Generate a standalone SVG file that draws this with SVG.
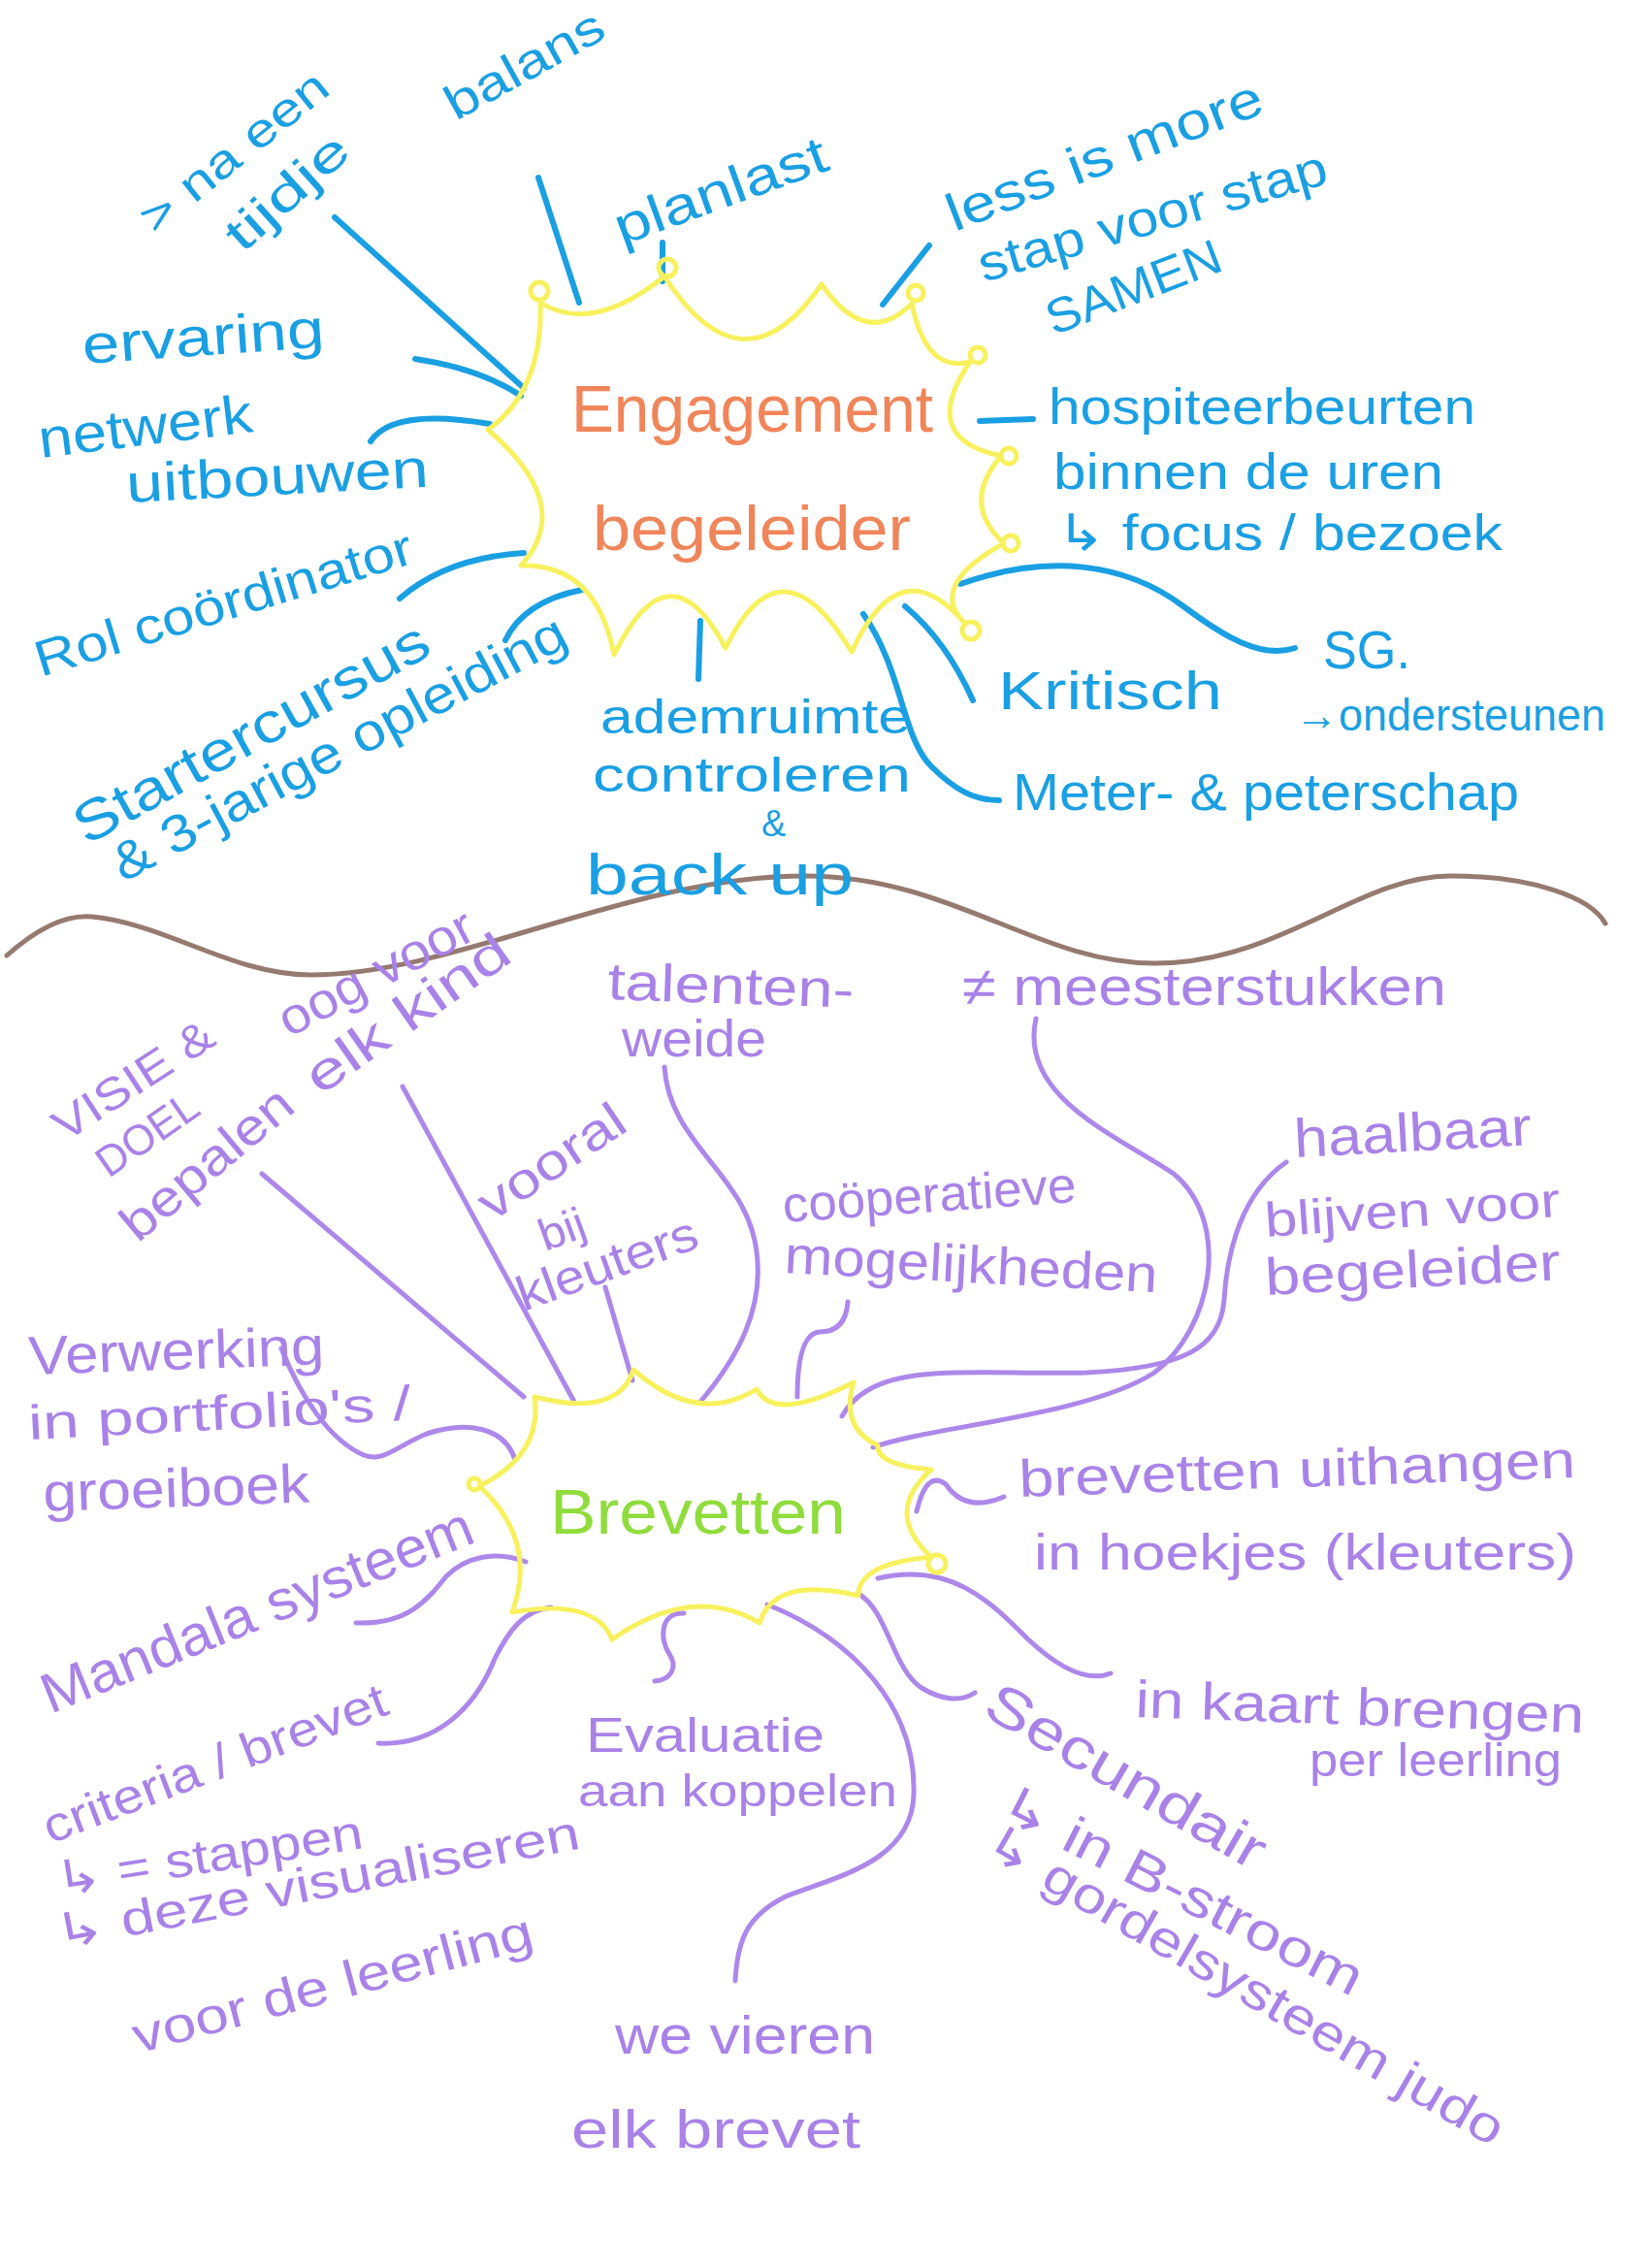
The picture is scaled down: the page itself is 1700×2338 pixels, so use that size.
<svg xmlns="http://www.w3.org/2000/svg" width="1700" height="2338" viewBox="0 0 1700 2338">
<style>
text{font-family:"Liberation Sans","DejaVu Sans",sans-serif;}
.b{fill:#1a9fe3;}
.p{fill:#a982e8;}
.o{fill:#f0855a;}
.g{fill:#8fdc3c;}
.cb{fill:none;stroke:#1a9fe3;stroke-width:6;stroke-linecap:round;}
.cp{fill:none;stroke:#ad88ea;stroke-width:5;stroke-linecap:round;}
.burst{fill:none;stroke:#f7f15e;stroke-width:5;stroke-linejoin:round;}
.loop{fill:none;stroke:#f7f15e;stroke-width:5;}
.wave{fill:none;stroke:#957a70;stroke-width:5;stroke-linecap:round;}
</style>
<rect width="1700" height="2338" fill="#ffffff"/>

<g id="divider">
<path class="wave" d="M7,985 C35,960 65,942 95,945 C170,952 240,1005 320,1005 C470,1005 650,903 830,903 C980,903 1070,993 1190,993 C1320,993 1400,903 1495,903 C1580,903 1640,925 1655,952"/>
</g>

<g id="connectors">
<!-- top (blue) -->
<path class="cb" d="M345,224 L540,400"/>
<path class="cb" d="M555,183 L597,312"/>
<path class="cb" d="M683,250 L683,290"/>
<path class="cb" d="M958,253 L910,314"/>
<path class="cb" d="M428,370 Q495,380 537,408"/>
<path class="cb" d="M382,455 Q405,420 505,437"/>
<path class="cb" d="M1010,434 L1065,432"/>
<path class="cb" d="M990,602 C1080,570 1160,580 1220,625 C1260,655 1300,680 1335,668"/>
<path class="cb" d="M933,625 Q975,660 1003,722"/>
<path class="cb" d="M890,633 C930,690 930,760 960,790 C985,815 1005,825 1030,825"/>
<path class="cb" d="M722,640 L720,700"/>
<path class="cb" d="M412,617 Q460,575 540,570"/>
<path class="cb" d="M521,660 Q540,620 600,608"/>
<!-- bottom (purple) -->
<path class="cp" d="M270,1210 L540,1440"/>
<path class="cp" d="M415,1120 L592,1445"/>
<path class="cp" d="M624,1327 L652,1423"/>
<path class="cp" d="M685,1100 C690,1180 770,1210 780,1290 C788,1350 760,1400 722,1445"/>
<path class="cp" d="M874,1342 Q872,1373 845,1373 Q822,1375 822,1440"/>
<path class="cp" d="M1068,1050 C1050,1130 1150,1170 1210,1210 C1270,1260 1250,1370 1190,1415 C1120,1460 960,1470 900,1492"/>
<path class="cp" d="M1326,1198 C1280,1230 1265,1290 1262,1340 C1258,1390 1220,1410 1120,1415 C1000,1418 900,1400 868,1460"/>
<path class="cp" d="M945,1558 Q955,1515 975,1530 Q995,1560 1035,1543"/>
<path class="cp" d="M905,1627 C980,1610 1020,1650 1060,1690 C1090,1718 1120,1735 1145,1725"/>
<path class="cp" d="M885,1643 C915,1660 920,1720 950,1740 C970,1752 990,1755 1005,1745"/>
<path class="cp" d="M791,1654 C880,1690 945,1760 942,1850 C940,1920 860,1935 810,1955 C770,1975 760,2000 758,2042"/>
<path class="cp" d="M705,1663 C680,1662 680,1690 690,1705 C700,1720 690,1732 675,1733"/>
<path class="cp" d="M568,1657 C540,1660 525,1680 510,1710 C490,1760 450,1800 390,1797"/>
<path class="cp" d="M542,1610 C510,1598 480,1605 460,1625 C440,1650 420,1675 367,1673"/>
<path class="cp" d="M531,1505 C520,1470 480,1465 440,1478 C410,1490 395,1508 375,1500 C340,1485 310,1440 290,1390"/>
</g>

<g id="engagement-begeleider">
<path class="burst" d="M557,312 Q610,345 685,285 Q766,410 847,293 Q893,360 940,313 Q955,385 1000,373 Q946,452 1032,470 Q990,519 1035,560 Q955,604 995,643 Q928,563 878,672 Q805,550 748,668 Q690,558 633,675 Q615,581 537,583 Q594,521 503,443 Q560,402 557,312 Z"/>
<circle class="loop" cx="556" cy="300" r="9"/>
<circle class="loop" cx="688" cy="276" r="9"/>
<circle class="loop" cx="944" cy="302" r="8"/>
<circle class="loop" cx="1008" cy="366" r="8"/>
<circle class="loop" cx="1040" cy="470" r="8"/>
<circle class="loop" cx="1042" cy="560" r="8"/>
<circle class="loop" cx="1001" cy="650" r="9"/>
<text class="o" x="589" y="445" font-size="68" textLength="373" lengthAdjust="spacingAndGlyphs">Engagement</text>
<text class="o" x="611" y="567" font-size="64" textLength="328" lengthAdjust="spacingAndGlyphs">begeleider</text>
</g>

<g id="na-een-tijdje">
<text class="b" x="160" y="243" font-size="48" textLength="235" lengthAdjust="spacingAndGlyphs" transform="rotate(-39 160 243)">&gt; na een</text>
<text class="b" x="250" y="262" font-size="50" textLength="154" lengthAdjust="spacingAndGlyphs" transform="rotate(-42 250 262)">tijdje</text>
</g>
<g id="balans"><text class="b" x="470" y="125" font-size="50" textLength="180" lengthAdjust="spacingAndGlyphs" transform="rotate(-29 470 125)">balans</text></g>
<g id="planlast"><text class="b" x="641" y="253" font-size="54" textLength="230" lengthAdjust="spacingAndGlyphs" transform="rotate(-20 641 253)">planlast</text></g>
<g id="less-is-more">
<text class="b" x="984" y="239" font-size="54" textLength="345" lengthAdjust="spacingAndGlyphs" transform="rotate(-21 984 239)">less is more</text>
<text class="b" x="1014" y="291" font-size="52" textLength="372" lengthAdjust="spacingAndGlyphs" transform="rotate(-16 1014 291)">stap voor stap</text>
<text class="b" x="1086" y="346" font-size="50" textLength="190" lengthAdjust="spacingAndGlyphs" transform="rotate(-21 1086 346)">SAMEN</text>
</g>
<g id="ervaring"><text class="b" x="86" y="375" font-size="56" textLength="250" lengthAdjust="spacingAndGlyphs" transform="rotate(-4 86 375)">ervaring</text></g>
<g id="netwerk-uitbouwen">
<text class="b" x="42" y="472" font-size="56" textLength="222" lengthAdjust="spacingAndGlyphs" transform="rotate(-7 42 472)">netwerk</text>
<text class="b" x="131" y="518" font-size="56" textLength="312" lengthAdjust="spacingAndGlyphs" transform="rotate(-3 131 518)">uitbouwen</text>
</g>
<g id="hospiteerbeurten">
<text class="b" x="1081" y="437" font-size="52" textLength="440" lengthAdjust="spacingAndGlyphs">hospiteerbeurten</text>
<text class="b" x="1086" y="504" font-size="52" textLength="402" lengthAdjust="spacingAndGlyphs">binnen de uren</text>
<text class="b" x="1089" y="567" font-size="52" textLength="460" lengthAdjust="spacingAndGlyphs">↳ focus / bezoek</text>
</g>
<g id="rol-coordinator"><text class="b" x="42" y="698" font-size="52" textLength="405" lengthAdjust="spacingAndGlyphs" transform="rotate(-17 42 698)">Rol coördinator</text></g>
<g id="startercursus">
<text class="b" x="89" y="872" font-size="58" textLength="410" lengthAdjust="spacingAndGlyphs" transform="rotate(-29 89 872)">Startercursus</text>
<text class="b" x="127" y="910" font-size="54" textLength="523" lengthAdjust="spacingAndGlyphs" transform="rotate(-28 127 910)">&amp; 3-jarige opleiding</text>
</g>
<g id="ademruimte">
<text class="b" x="619" y="756" font-size="50" textLength="320" lengthAdjust="spacingAndGlyphs">ademruimte</text>
<text class="b" x="611" y="816" font-size="50" textLength="328" lengthAdjust="spacingAndGlyphs">controleren</text>
<text class="b" x="785" y="862" font-size="38">&amp;</text>
<text class="b" x="604" y="922" font-size="60" textLength="276" lengthAdjust="spacingAndGlyphs">back up</text>
</g>
<g id="kritisch"><text class="b" x="1029" y="731" font-size="56" textLength="231" lengthAdjust="spacingAndGlyphs">Kritisch</text></g>
<g id="sg">
<text class="b" x="1364" y="689" font-size="56" textLength="90" lengthAdjust="spacingAndGlyphs">SG.</text>
<text class="b" x="1335" y="753" font-size="46" textLength="320" lengthAdjust="spacingAndGlyphs">→ondersteunen</text>
</g>
<g id="meterschap"><text class="b" x="1044" y="835" font-size="54" textLength="522" lengthAdjust="spacingAndGlyphs">Meter- &amp; peterschap</text></g>

<g id="brevetten">
<path class="burst" d="M551,1440 Q637,1462 653,1412 Q719,1470 780,1432 Q798,1467 880,1425 Q866,1472 905,1490 Q903,1510 960,1515 Q910,1559 960,1605 Q884,1612 885,1645 Q798,1624 783,1673 Q714,1632 631,1690 Q614,1647 528,1662 Q555,1588 494,1532 Q560,1499 551,1440 Z"/>
<circle class="loop" cx="966" cy="1612" r="9"/>
<circle class="loop" cx="489" cy="1530" r="6"/>
<text class="g" x="567" y="1581" font-size="64" textLength="305" lengthAdjust="spacingAndGlyphs">Brevetten</text>
</g>

<g id="visie-doel">
<text class="p" x="67" y="1178" font-size="46" textLength="188" lengthAdjust="spacingAndGlyphs" transform="rotate(-33 67 1178)">VISIE &amp;</text>
<text class="p" x="112" y="1215" font-size="44" textLength="118" lengthAdjust="spacingAndGlyphs" transform="rotate(-35 112 1215)">DOEL</text>
<text class="p" x="142" y="1282" font-size="52" textLength="215" lengthAdjust="spacingAndGlyphs" transform="rotate(-40 142 1282)">bepalen</text>
</g>
<g id="oog-voor">
<text class="p" x="298" y="1070" font-size="52" textLength="221" lengthAdjust="spacingAndGlyphs" transform="rotate(-28 298 1070)">oog voor</text>
<text class="p" x="330" y="1130" font-size="54" textLength="245" lengthAdjust="spacingAndGlyphs" transform="rotate(-35 330 1130)">elk kind</text>
</g>
<g id="talentenweide">
<text class="p" x="626" y="1030" font-size="54" textLength="254" lengthAdjust="spacingAndGlyphs" transform="rotate(2 626 1030)">talenten-</text>
<text class="p" x="641" y="1089" font-size="54" textLength="149" lengthAdjust="spacingAndGlyphs">weide</text>
</g>
<g id="meesterstukken"><text class="p" x="992" y="1036" font-size="56" textLength="499" lengthAdjust="spacingAndGlyphs">≠ meesterstukken</text></g>
<g id="vooral-kleuters">
<text class="p" x="507" y="1260" font-size="52" textLength="172" lengthAdjust="spacingAndGlyphs" transform="rotate(-34 507 1260)">vooral</text>
<text class="p" x="562" y="1290" font-size="46" textLength="48" lengthAdjust="spacingAndGlyphs" transform="rotate(-20 562 1290)">bij</text>
<text class="p" x="540" y="1352" font-size="50" textLength="195" lengthAdjust="spacingAndGlyphs" transform="rotate(-20 540 1352)">kleuters</text>
</g>
<g id="cooperatieve">
<text class="p" x="808" y="1260" font-size="52" textLength="303" lengthAdjust="spacingAndGlyphs" transform="rotate(-4 808 1260)">coöperatieve</text>
<text class="p" x="808" y="1312" font-size="54" textLength="385" lengthAdjust="spacingAndGlyphs" transform="rotate(3 808 1312)">mogelijkheden</text>
</g>
<g id="haalbaar">
<text class="p" x="1335" y="1193" font-size="56" textLength="245" lengthAdjust="spacingAndGlyphs" transform="rotate(-3 1335 1193)">haalbaar</text>
<text class="p" x="1305" y="1275" font-size="50" textLength="305" lengthAdjust="spacingAndGlyphs" transform="rotate(-4 1305 1275)">blijven voor</text>
<text class="p" x="1305" y="1335" font-size="54" textLength="305" lengthAdjust="spacingAndGlyphs" transform="rotate(-3 1305 1335)">begeleider</text>
</g>
<g id="verwerking">
<text class="p" x="30" y="1417" font-size="56" textLength="305" lengthAdjust="spacingAndGlyphs" transform="rotate(-2 30 1417)">Verwerking</text>
<text class="p" x="30" y="1484" font-size="50" textLength="395" lengthAdjust="spacingAndGlyphs" transform="rotate(-3 30 1484)">in portfolio's /</text>
<text class="p" x="45" y="1558" font-size="56" textLength="275" lengthAdjust="spacingAndGlyphs" transform="rotate(-2 45 1558)">groeiboek</text>
</g>
<g id="uithangen">
<text class="p" x="1051" y="1543" font-size="54" textLength="574" lengthAdjust="spacingAndGlyphs" transform="rotate(-2 1051 1543)">brevetten uithangen</text>
<text class="p" x="1066" y="1618" font-size="52" textLength="559" lengthAdjust="spacingAndGlyphs">in hoekjes (kleuters)</text>
</g>
<g id="mandala"><text class="p" x="52" y="1767" font-size="58" textLength="475" lengthAdjust="spacingAndGlyphs" transform="rotate(-22 52 1767)">Mandala systeem</text></g>
<g id="criteria">
<text class="p" x="52" y="1901" font-size="50" textLength="376" lengthAdjust="spacingAndGlyphs" transform="rotate(-21 52 1901)">criteria / brevet</text>
<text class="p" x="60" y="1955" font-size="50" textLength="320" lengthAdjust="spacingAndGlyphs" transform="rotate(-9 60 1955)">↳ = stappen</text>
<text class="p" x="60" y="2010" font-size="50" textLength="550" lengthAdjust="spacingAndGlyphs" transform="rotate(-11 60 2010)">↳ deze visualiseren</text>
<text class="p" x="142" y="2117" font-size="52" textLength="425" lengthAdjust="spacingAndGlyphs" transform="rotate(-15 142 2117)">voor de leerling</text>
</g>
<g id="evaluatie">
<text class="p" x="604" y="1806" font-size="50" textLength="246" lengthAdjust="spacingAndGlyphs">Evaluatie</text>
<text class="p" x="596" y="1862" font-size="46" textLength="329" lengthAdjust="spacingAndGlyphs">aan koppelen</text>
</g>
<g id="in-kaart">
<text class="p" x="1170" y="1770" font-size="54" textLength="463" lengthAdjust="spacingAndGlyphs" transform="rotate(2 1170 1770)">in kaart brengen</text>
<text class="p" x="1350" y="1831" font-size="48" textLength="260" lengthAdjust="spacingAndGlyphs">per leerling</text>
</g>
<g id="secundair">
<text class="p" x="1011" y="1767" font-size="58" textLength="324" lengthAdjust="spacingAndGlyphs" transform="rotate(30 1011 1767)">Secundair</text>
<text class="p" x="1026" y="1871" font-size="54" textLength="413" lengthAdjust="spacingAndGlyphs" transform="rotate(27 1026 1871)">↳ in B-stroom</text>
<text class="p" x="1011" y="1909" font-size="52" textLength="609" lengthAdjust="spacingAndGlyphs" transform="rotate(30 1011 1909)">↳ gordelsysteem judo</text>
</g>
<g id="we-vieren">
<text class="p" x="634" y="2117" font-size="56" textLength="268" lengthAdjust="spacingAndGlyphs">we vieren</text>
<text class="p" x="589" y="2214" font-size="56" textLength="298" lengthAdjust="spacingAndGlyphs">elk brevet</text>
</g>
</svg>
